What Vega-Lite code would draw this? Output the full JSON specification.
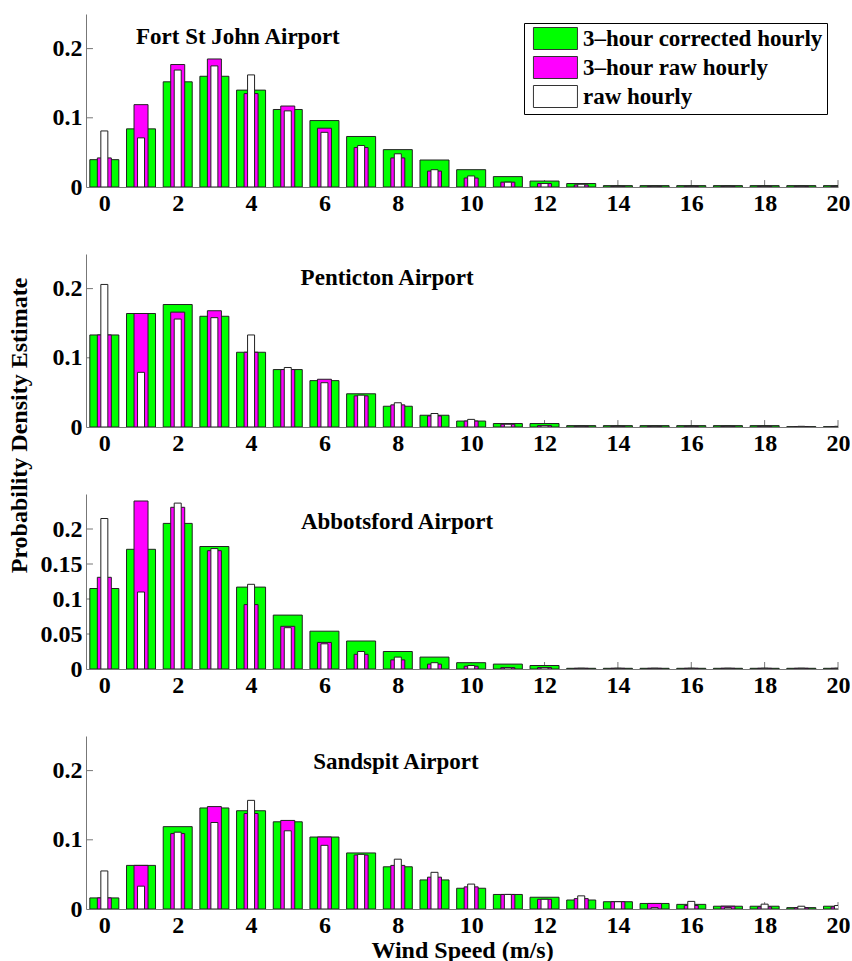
{
  "$schema": "https://vega.github.io/schema/vega-lite/v6.json",
  "padding": {"left": 6, "top": 14, "right": 0, "bottom": 0},
  "autosize": {"type": "pad"},
  "background": "white",
  "config": {
    "view": {"stroke": null},
    "font": "Liberation Serif",
    "scale": {"continuousPadding": 0},
    "axis": {
      "labelFont": "Liberation Serif",
      "labelFontSize": 24,
      "labelFontWeight": "bold",
      "labelColor": "#000",
      "labelFlush": false,
      "labelPadding": 4,
      "titleFont": "Liberation Serif",
      "titleFontSize": 24,
      "titleFontWeight": "bold",
      "titleColor": "#000",
      "domainColor": "#777",
      "ticks": false,
      "grid": false
    },
    "legend": {
      "labelFont": "Liberation Serif",
      "labelFontSize": 23,
      "labelFontWeight": "bold",
      "labelColor": "#000"
    },
    "bar": {"stroke": "#222", "strokeWidth": 1},
    "rule": {"color": "#777", "strokeWidth": 1},
    "text": {"font": "Liberation Serif", "fontWeight": "bold", "fontSize": 23, "fill": "#000"}
  },
  "datasets": {
    "fsj": [
      {"ws": 0, "corr": 0.0395, "raw3": 0.042, "raw": 0.081},
      {"ws": 1, "corr": 0.084, "raw3": 0.119, "raw": 0.071},
      {"ws": 2, "corr": 0.152, "raw3": 0.177, "raw": 0.169},
      {"ws": 3, "corr": 0.160, "raw3": 0.185, "raw": 0.175},
      {"ws": 4, "corr": 0.140, "raw3": 0.135, "raw": 0.162},
      {"ws": 5, "corr": 0.112, "raw3": 0.117, "raw": 0.110},
      {"ws": 6, "corr": 0.096, "raw3": 0.085, "raw": 0.079},
      {"ws": 7, "corr": 0.073, "raw3": 0.057, "raw": 0.060},
      {"ws": 8, "corr": 0.054, "raw3": 0.042, "raw": 0.048},
      {"ws": 9, "corr": 0.039, "raw3": 0.023, "raw": 0.025},
      {"ws": 10, "corr": 0.025, "raw3": 0.013, "raw": 0.016},
      {"ws": 11, "corr": 0.015, "raw3": 0.007, "raw": 0.007},
      {"ws": 12, "corr": 0.0086, "raw3": 0.005, "raw": 0.005},
      {"ws": 13, "corr": 0.005, "raw3": 0.003, "raw": 0.004},
      {"ws": 14, "corr": 0.002, "raw3": 0.001, "raw": 0.001},
      {"ws": 15, "corr": 0.002, "raw3": 0.001, "raw": 0.001},
      {"ws": 16, "corr": 0.002, "raw3": 0.001, "raw": 0.001},
      {"ws": 17, "corr": 0.002, "raw3": 0.001, "raw": 0.001},
      {"ws": 18, "corr": 0.002, "raw3": 0.001, "raw": 0.001},
      {"ws": 19, "corr": 0.002, "raw3": 0.001, "raw": 0.001},
      {"ws": 20, "corr": 0.002, "raw3": 0.001, "raw": 0.001}
    ],
    "pen": [
      {"ws": 0, "corr": 0.133, "raw3": 0.133, "raw": 0.206},
      {"ws": 1, "corr": 0.164, "raw3": 0.164, "raw": 0.079},
      {"ws": 2, "corr": 0.177, "raw3": 0.166, "raw": 0.156},
      {"ws": 3, "corr": 0.160, "raw3": 0.168, "raw": 0.158},
      {"ws": 4, "corr": 0.108, "raw3": 0.108, "raw": 0.133},
      {"ws": 5, "corr": 0.083, "raw3": 0.083, "raw": 0.086},
      {"ws": 6, "corr": 0.067, "raw3": 0.069, "raw": 0.064},
      {"ws": 7, "corr": 0.048, "raw3": 0.045, "raw": 0.046},
      {"ws": 8, "corr": 0.030, "raw3": 0.032, "raw": 0.035},
      {"ws": 9, "corr": 0.017, "raw3": 0.016, "raw": 0.0195},
      {"ws": 10, "corr": 0.0086, "raw3": 0.0086, "raw": 0.011},
      {"ws": 11, "corr": 0.005, "raw3": 0.004, "raw": 0.004},
      {"ws": 12, "corr": 0.005, "raw3": 0.002, "raw": 0.002},
      {"ws": 13, "corr": 0.002, "raw3": 0.001, "raw": 0.001},
      {"ws": 14, "corr": 0.002, "raw3": 0.001, "raw": 0.001},
      {"ws": 15, "corr": 0.002, "raw3": 0.001, "raw": 0.001},
      {"ws": 16, "corr": 0.002, "raw3": 0.001, "raw": 0.001},
      {"ws": 17, "corr": 0.002, "raw3": 0.001, "raw": 0.001},
      {"ws": 18, "corr": 0.002, "raw3": 0.001, "raw": 0.001},
      {"ws": 19, "corr": 0.0005, "raw3": 0.0005, "raw": 0.001},
      {"ws": 20, "corr": 0.0005, "raw3": 0.0005, "raw": 0.001}
    ],
    "abb": [
      {"ws": 0, "corr": 0.115, "raw3": 0.131, "raw": 0.215},
      {"ws": 1, "corr": 0.171, "raw3": 0.240, "raw": 0.110},
      {"ws": 2, "corr": 0.208, "raw3": 0.231, "raw": 0.237},
      {"ws": 3, "corr": 0.175, "raw3": 0.169, "raw": 0.172},
      {"ws": 4, "corr": 0.117, "raw3": 0.092, "raw": 0.121},
      {"ws": 5, "corr": 0.077, "raw3": 0.061, "raw": 0.059},
      {"ws": 6, "corr": 0.054, "raw3": 0.038, "raw": 0.036},
      {"ws": 7, "corr": 0.040, "raw3": 0.021, "raw": 0.025},
      {"ws": 8, "corr": 0.025, "raw3": 0.013, "raw": 0.017},
      {"ws": 9, "corr": 0.017, "raw3": 0.007, "raw": 0.009},
      {"ws": 10, "corr": 0.009, "raw3": 0.004, "raw": 0.005},
      {"ws": 11, "corr": 0.007, "raw3": 0.002, "raw": 0.002},
      {"ws": 12, "corr": 0.005, "raw3": 0.002, "raw": 0.002},
      {"ws": 13, "corr": 0.001, "raw3": 0.001, "raw": 0.001},
      {"ws": 14, "corr": 0.001, "raw3": 0.001, "raw": 0.001},
      {"ws": 15, "corr": 0.001, "raw3": 0.001, "raw": 0.001},
      {"ws": 16, "corr": 0.001, "raw3": 0.001, "raw": 0.001},
      {"ws": 17, "corr": 0.001, "raw3": 0.001, "raw": 0.001},
      {"ws": 18, "corr": 0.001, "raw3": 0.001, "raw": 0.001},
      {"ws": 19, "corr": 0.001, "raw3": 0.001, "raw": 0.001},
      {"ws": 20, "corr": 0.001, "raw3": 0.001, "raw": 0.001}
    ],
    "san": [
      {"ws": 0, "corr": 0.016, "raw3": 0.016, "raw": 0.055},
      {"ws": 1, "corr": 0.063, "raw3": 0.063, "raw": 0.033},
      {"ws": 2, "corr": 0.119, "raw3": 0.109, "raw": 0.111},
      {"ws": 3, "corr": 0.146, "raw3": 0.148, "raw": 0.125},
      {"ws": 4, "corr": 0.142, "raw3": 0.138, "raw": 0.157},
      {"ws": 5, "corr": 0.126, "raw3": 0.128, "raw": 0.113},
      {"ws": 6, "corr": 0.104, "raw3": 0.104, "raw": 0.092},
      {"ws": 7, "corr": 0.081, "raw3": 0.078, "raw": 0.079},
      {"ws": 8, "corr": 0.061, "raw3": 0.063, "raw": 0.072},
      {"ws": 9, "corr": 0.042, "raw3": 0.046, "raw": 0.053},
      {"ws": 10, "corr": 0.030, "raw3": 0.032, "raw": 0.036},
      {"ws": 11, "corr": 0.021, "raw3": 0.021, "raw": 0.021},
      {"ws": 12, "corr": 0.017, "raw3": 0.014, "raw": 0.014},
      {"ws": 13, "corr": 0.013, "raw3": 0.015, "raw": 0.019},
      {"ws": 14, "corr": 0.0105, "raw3": 0.0105, "raw": 0.0105},
      {"ws": 15, "corr": 0.008, "raw3": 0.008, "raw": 0.002},
      {"ws": 16, "corr": 0.0067, "raw3": 0.005, "raw": 0.011},
      {"ws": 17, "corr": 0.004, "raw3": 0.004, "raw": 0.002},
      {"ws": 18, "corr": 0.004, "raw3": 0.003, "raw": 0.007},
      {"ws": 19, "corr": 0.002, "raw3": 0.002, "raw": 0.004},
      {"ws": 20, "corr": 0.004, "raw3": 0.003, "raw": 0.005}
    ],
    "xticks": [{"v": 0}, {"v": 2}, {"v": 4}, {"v": 6}, {"v": 8}, {"v": 10}, {"v": 12}, {"v": 14}, {"v": 16}, {"v": 18}, {"v": 20}],
    "yticks": [{"v": 0.1}, {"v": 0.2}],
    "yticksFine": [{"v": 0.05}, {"v": 0.1}, {"v": 0.15}, {"v": 0.2}],
    "one": [{}]
  },
  "spacing": 67,
  "bounds": "flush",
  "resolve": {"scale": {"fill": "independent"}, "legend": {"fill": "independent"}},
  "vconcat": [
    {
      "width": 752,
      "height": 173,
      "layer": [
        {
          "data": {"name": "xticks"},
          "mark": "rule",
          "encoding": {
            "x": {"field": "v", "type": "quantitative", "scale": {"domain": [-0.5, 20], "nice": false, "zero": false, "padding": 0},
                  "axis": {"title": null, "values": [0, 2, 4, 6, 8, 10, 12, 14, 16, 18, 20], "format": "d"}},
            "y": {"datum": 0, "type": "quantitative", "scale": {"domain": [0, 0.25], "nice": false},
                  "axis": {"title": null, "values": [0, 0.1, 0.2], "format": "~g"}},
            "y2": {"datum": 0.01}
          }
        },
        {
          "data": {"name": "yticks"},
          "mark": "rule",
          "encoding": {
            "y": {"field": "v", "type": "quantitative"},
            "x": {"datum": -0.5, "type": "quantitative"},
            "x2": {"datum": -0.31}
          }
        },
        {
          "data": {"name": "fsj"},
          "mark": {"type": "bar", "size": 29, "clip": true},
          "encoding": {
            "x": {"field": "ws", "type": "quantitative"},
            "y": {"field": "corr", "type": "quantitative"},
            "fill": {"datum": "3–hour corrected hourly", "type": "nominal",
                     "scale": {"domain": ["3–hour corrected hourly", "3–hour raw hourly", "raw hourly"], "range": ["#00ff00", "#ff00ff", "#ffffff"]},
                     "legend": {
                       "title": null, "orient": "none", "legendX": 438, "legendY": 9,
                       "padding": 4, "strokeColor": "#000", "fillColor": "#fff",
                       "symbolType": "M-0.55,-1H3.45V1H-0.55Z", "symbolSize": 484,
                       "symbolStrokeColor": "#333", "symbolStrokeWidth": 1,
                       "labelFont": "Liberation Serif", "labelFontSize": 23, "labelFontWeight": "bold", "labelColor": "#000",
                       "labelOffset": 32, "labelLimit": 0, "rowPadding": 2
                     }}
          }
        },
        {
          "data": {"name": "fsj"},
          "mark": {"type": "bar", "size": 14, "clip": true},
          "encoding": {
            "x": {"field": "ws", "type": "quantitative"},
            "y": {"field": "raw3", "type": "quantitative"},
            "fill": {"datum": "3–hour raw hourly", "type": "nominal"}
          }
        },
        {
          "data": {"name": "fsj"},
          "mark": {"type": "bar", "size": 7, "clip": true},
          "encoding": {
            "x": {"field": "ws", "type": "quantitative"},
            "y": {"field": "raw", "type": "quantitative"},
            "fill": {"datum": "raw hourly", "type": "nominal"}
          }
        },
        {
          "data": {"name": "one"},
          "mark": {"type": "text", "align": "center", "baseline": "middle"},
          "encoding": {
            "x": {"datum": 3.64, "type": "quantitative"},
            "y": {"datum": 0.217, "type": "quantitative"},
            "text": {"value": "Fort St John Airport"}
          }
        }
      ]
    },
    {
      "width": 752,
      "height": 173,
      "layer": [
        {
          "data": {"name": "xticks"},
          "mark": "rule",
          "encoding": {
            "x": {"field": "v", "type": "quantitative", "scale": {"domain": [-0.5, 20], "nice": false, "zero": false, "padding": 0},
                  "axis": {"title": null, "values": [0, 2, 4, 6, 8, 10, 12, 14, 16, 18, 20], "format": "d"}},
            "y": {"datum": 0, "type": "quantitative", "scale": {"domain": [0, 0.25], "nice": false},
                  "axis": {"title": "Probability Density Estimate", "values": [0, 0.1, 0.2], "format": "~g",
                           "titleAngle": 270, "titleAlign": "center", "titleBaseline": "middle", "titleX": -67, "titleY": 171}},
            "y2": {"datum": 0.01}
          }
        },
        {
          "data": {"name": "yticks"},
          "mark": "rule",
          "encoding": {
            "y": {"field": "v", "type": "quantitative"},
            "x": {"datum": -0.5, "type": "quantitative"},
            "x2": {"datum": -0.31}
          }
        },
        {
          "data": {"name": "pen"},
          "mark": {"type": "bar", "size": 29, "fill": "#00ff00", "clip": true},
          "encoding": {
            "x": {"field": "ws", "type": "quantitative"},
            "y": {"field": "corr", "type": "quantitative"}
          }
        },
        {
          "data": {"name": "pen"},
          "mark": {"type": "bar", "size": 14, "fill": "#ff00ff", "clip": true},
          "encoding": {
            "x": {"field": "ws", "type": "quantitative"},
            "y": {"field": "raw3", "type": "quantitative"}
          }
        },
        {
          "data": {"name": "pen"},
          "mark": {"type": "bar", "size": 7, "fill": "#ffffff", "clip": true},
          "encoding": {
            "x": {"field": "ws", "type": "quantitative"},
            "y": {"field": "raw", "type": "quantitative"}
          }
        },
        {
          "data": {"name": "one"},
          "mark": {"type": "text", "align": "center", "baseline": "middle"},
          "encoding": {
            "x": {"datum": 7.71, "type": "quantitative"},
            "y": {"datum": 0.215, "type": "quantitative"},
            "text": {"value": "Penticton Airport"}
          }
        }
      ]
    },
    {
      "width": 752,
      "height": 175,
      "layer": [
        {
          "data": {"name": "xticks"},
          "mark": "rule",
          "encoding": {
            "x": {"field": "v", "type": "quantitative", "scale": {"domain": [-0.5, 20], "nice": false, "zero": false, "padding": 0},
                  "axis": {"title": null, "values": [0, 2, 4, 6, 8, 10, 12, 14, 16, 18, 20], "format": "d"}},
            "y": {"datum": 0, "type": "quantitative", "scale": {"domain": [0, 0.25], "nice": false},
                  "axis": {"title": null, "values": [0, 0.05, 0.1, 0.15, 0.2], "format": "~g"}},
            "y2": {"datum": 0.01}
          }
        },
        {
          "data": {"name": "yticksFine"},
          "mark": "rule",
          "encoding": {
            "y": {"field": "v", "type": "quantitative"},
            "x": {"datum": -0.5, "type": "quantitative"},
            "x2": {"datum": -0.31}
          }
        },
        {
          "data": {"name": "abb"},
          "mark": {"type": "bar", "size": 29, "fill": "#00ff00", "clip": true},
          "encoding": {
            "x": {"field": "ws", "type": "quantitative"},
            "y": {"field": "corr", "type": "quantitative"}
          }
        },
        {
          "data": {"name": "abb"},
          "mark": {"type": "bar", "size": 14, "fill": "#ff00ff", "clip": true},
          "encoding": {
            "x": {"field": "ws", "type": "quantitative"},
            "y": {"field": "raw3", "type": "quantitative"}
          }
        },
        {
          "data": {"name": "abb"},
          "mark": {"type": "bar", "size": 7, "fill": "#ffffff", "clip": true},
          "encoding": {
            "x": {"field": "ws", "type": "quantitative"},
            "y": {"field": "raw", "type": "quantitative"}
          }
        },
        {
          "data": {"name": "one"},
          "mark": {"type": "text", "align": "center", "baseline": "middle"},
          "encoding": {
            "x": {"datum": 7.98, "type": "quantitative"},
            "y": {"datum": 0.21, "type": "quantitative"},
            "text": {"value": "Abbotsford Airport"}
          }
        }
      ]
    },
    {
      "width": 752,
      "height": 173,
      "layer": [
        {
          "data": {"name": "xticks"},
          "mark": "rule",
          "encoding": {
            "x": {"field": "v", "type": "quantitative", "scale": {"domain": [-0.5, 20], "nice": false, "zero": false, "padding": 0},
                  "axis": {"title": "Wind Speed (m/s)", "values": [0, 2, 4, 6, 8, 10, 12, 14, 16, 18, 20], "format": "d", "titlePadding": 1}},
            "y": {"datum": 0, "type": "quantitative", "scale": {"domain": [0, 0.25], "nice": false},
                  "axis": {"title": null, "values": [0, 0.1, 0.2], "format": "~g"}},
            "y2": {"datum": 0.01}
          }
        },
        {
          "data": {"name": "yticks"},
          "mark": "rule",
          "encoding": {
            "y": {"field": "v", "type": "quantitative"},
            "x": {"datum": -0.5, "type": "quantitative"},
            "x2": {"datum": -0.31}
          }
        },
        {
          "data": {"name": "san"},
          "mark": {"type": "bar", "size": 29, "fill": "#00ff00", "clip": true},
          "encoding": {
            "x": {"field": "ws", "type": "quantitative"},
            "y": {"field": "corr", "type": "quantitative"}
          }
        },
        {
          "data": {"name": "san"},
          "mark": {"type": "bar", "size": 14, "fill": "#ff00ff", "clip": true},
          "encoding": {
            "x": {"field": "ws", "type": "quantitative"},
            "y": {"field": "raw3", "type": "quantitative"}
          }
        },
        {
          "data": {"name": "san"},
          "mark": {"type": "bar", "size": 7, "fill": "#ffffff", "clip": true},
          "encoding": {
            "x": {"field": "ws", "type": "quantitative"},
            "y": {"field": "raw", "type": "quantitative"}
          }
        },
        {
          "data": {"name": "one"},
          "mark": {"type": "text", "align": "center", "baseline": "middle"},
          "encoding": {
            "x": {"datum": 7.95, "type": "quantitative"},
            "y": {"datum": 0.212, "type": "quantitative"},
            "text": {"value": "Sandspit Airport"}
          }
        }
      ]
    }
  ]
}
